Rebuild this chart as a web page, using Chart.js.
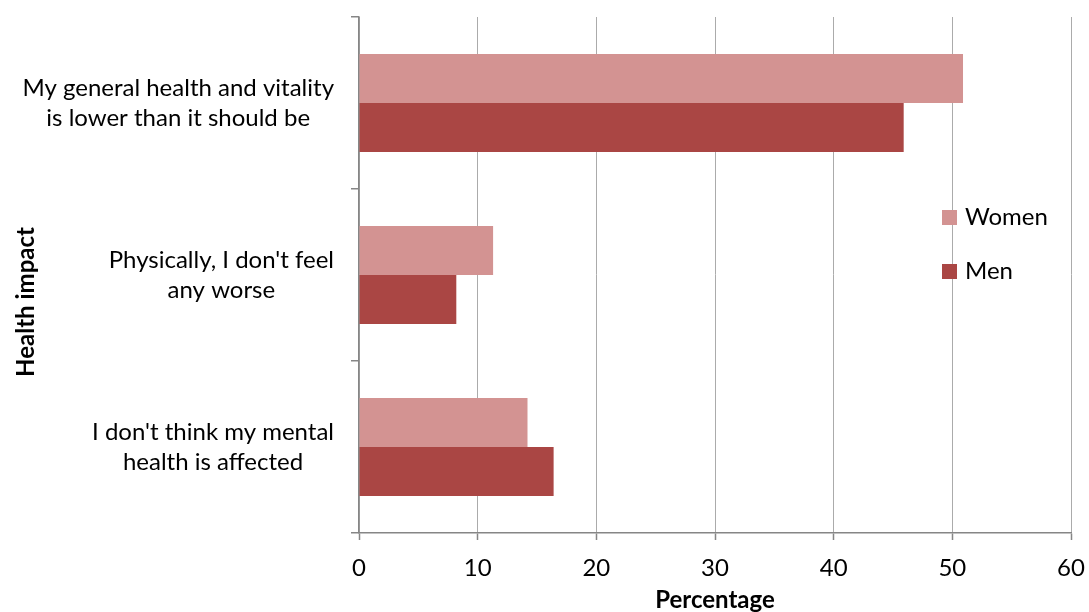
<!DOCTYPE html>
<html>
<head>
<meta charset="utf-8">
<script src="https://cdn.jsdelivr.net/npm/chart.js@4"></script>
<style>
  html, body { margin: 0; padding: 0; background: #ffffff; }
  #wrap { width: 1089px; height: 612px; }
</style>
</head>
<body>
<div id="wrap"><canvas id="c" width="1089" height="612"></canvas></div>
<script>
// Survey categories (each label split into the lines it is shown on)
const categories = [
  ["My general health and vitality", "is lower than it should be"],
  ["Physically, I don't feel", "any worse"],
  ["I don't think my mental", "health is affected"]
];
const seriesNames = ["Women", "Men"];
const womenValues = [50.9, 11.3, 14.2];
const menValues = [45.9, 8.2, 16.4];
const xTickValues = [0, 10, 20, 30, 40, 50, 60];
const xTitle = "Percentage";
const yTitle = "Health impact";

const FONT = 'Lato, "Liberation Sans", sans-serif';
const TEXT_SIZE = 24;
const LINE_H = 30;
const AXIS_GREY = '#868686';

// Category labels: each block right-aligned to the axis, its lines centred within it
const categoryLabels = {
  id: 'categoryLabels',
  afterDraw(chart) {
    const { ctx } = chart;
    const y = chart.scales.y;
    ctx.save();
    ctx.fillStyle = '#000000';
    ctx.textAlign = 'center';
    ctx.textBaseline = 'middle';
    ctx.font = `${TEXT_SIZE}px ${FONT}`;
    const rightEdge = y.right - 25;
    categories.forEach((lines, i) => {
      const cy = y.getPixelForValue(i);
      const widest = Math.max(...lines.map(l => ctx.measureText(l).width));
      const cx = rightEdge - widest / 2;
      lines.forEach((line, k) => {
        ctx.fillText(line, cx, cy + (k - (lines.length - 1) / 2) * LINE_H);
      });
    });
    // vertical axis title
    ctx.font = `bold ${TEXT_SIZE}px ${FONT}`;
    ctx.translate(26, 302);
    ctx.rotate(-Math.PI / 2);
    ctx.fillText(yTitle, 0, 0);
    ctx.restore();
  }
};

// Legend drawn over the right part of the plot
const insetLegend = {
  id: 'insetLegend',
  afterDraw(chart) {
    const { ctx } = chart;
    ctx.save();
    ctx.font = `${TEXT_SIZE}px ${FONT}`;
    ctx.textAlign = 'left';
    ctx.textBaseline = 'middle';
    chart.data.datasets.forEach((ds, i) => {
      const top = 210 + i * 54;
      ctx.fillStyle = ds.backgroundColor;
      ctx.fillRect(942, top, 15, 15);
      ctx.fillStyle = '#000000';
      ctx.fillText(ds.label, 965, top + 7.5);
    });
    ctx.restore();
  }
};

new Chart(document.getElementById('c'), {
  type: 'bar',
  data: {
    labels: categories,
    datasets: [
      { label: seriesNames[0], data: womenValues, backgroundColor: '#D39392' },
      { label: seriesNames[1], data: menValues, backgroundColor: '#AA4644' }
    ]
  },
  options: {
    indexAxis: 'y',
    responsive: false,
    devicePixelRatio: 1,
    animation: false,
    categoryPercentage: 0.57,
    barPercentage: 1.0,
    layout: { padding: { top: 17, right: 18, left: 0, bottom: 0 } },
    plugins: {
      legend: { display: false },
      tooltip: { enabled: false }
    },
    scales: {
      x: {
        type: 'linear',
        min: 0,
        max: 60,
        afterBuildTicks(scale) { scale.ticks = xTickValues.map(v => ({ value: v })); },
        afterFit(scale) {
          scale.height = 79;
          scale.paddingLeft = 0;
          scale.paddingRight = 0;
        },
        grid: {
          color: '#ABABAB',
          lineWidth: 1,
          borderDash: [3, 2],
          tickBorderDash: [],
          tickColor: AXIS_GREY,
          tickWidth: 1.5,
          tickLength: 7
        },
        border: { color: AXIS_GREY, width: 1.5 },
        ticks: {
          color: '#000000',
          padding: 14,
          font: { family: FONT, size: TEXT_SIZE }
        },
        title: {
          display: true,
          text: xTitle,
          color: '#000000',
          padding: { top: 0, bottom: 0 },
          font: { family: FONT, size: TEXT_SIZE, weight: 'bold', lineHeight: 1 }
        }
      },
      y: {
        type: 'category',
        offset: true,
        afterFit(scale) { scale.width = 359; },
        grid: {
          drawOnChartArea: false,
          color: AXIS_GREY,
          lineWidth: 1.5,
          tickLength: 8
        },
        border: { color: AXIS_GREY, width: 1.5 },
        ticks: { display: false }
      }
    }
  },
  plugins: [categoryLabels, insetLegend]
});
</script>
</body>
</html>
